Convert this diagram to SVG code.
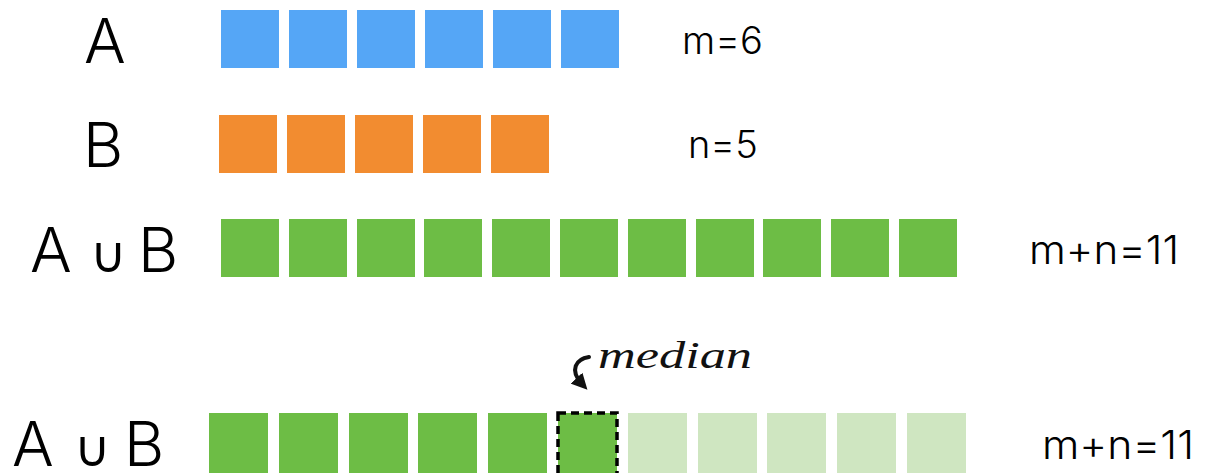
<svg xmlns="http://www.w3.org/2000/svg" width="1208" height="473" viewBox="0 0 1208 473">
<style>
.lbl{font-family:"Inter","Liberation Sans",sans-serif;font-weight:300;fill:#000}
.big{font-size:62px}
.un{font-size:50px;font-weight:200}
.cnt{font-size:38px}
.cnt2{font-size:40px}
.a{fill:#55a6f6}
.b{fill:#f28c30}
.g{fill:#6dbd45}
.lg{fill:#cfe6c1}
.hand{font-family:"Liberation Serif",serif;font-style:italic;font-size:38px;fill:#111}
</style>
<defs>
<rect id="s1" width="58" height="58"/>
<rect id="s2" width="59" height="60"/>
<marker id="ah" viewBox="0 0 10 10" refX="5" refY="5" markerWidth="4" markerHeight="4" orient="auto-start-reverse">
<path d="M0,0 L10,5 L0,10 z" fill="#111"/>
</marker>
</defs>
<g id="rowA">
<text class="lbl big" x="84" y="63">A</text>
<use href="#s1" class="a" x="221" y="10"/>
<use href="#s1" class="a" x="289" y="10"/>
<use href="#s1" class="a" x="357" y="10"/>
<use href="#s1" class="a" x="425" y="10"/>
<use href="#s1" class="a" x="493" y="10"/>
<use href="#s1" class="a" x="561" y="10"/>
<text class="lbl cnt" x="682" y="54">m=6</text>
</g>
<g id="rowB">
<text class="lbl big" x="83" y="167">B</text>
<use href="#s1" class="b" x="219" y="115"/>
<use href="#s1" class="b" x="287" y="115"/>
<use href="#s1" class="b" x="355" y="115"/>
<use href="#s1" class="b" x="423" y="115"/>
<use href="#s1" class="b" x="491" y="115"/>
<text class="lbl cnt" x="688" y="158">n=5</text>
</g>
<g id="rowU1">
<text class="lbl big" x="30" y="272">A</text>
<text class="lbl un" x="90" y="272">∪</text>
<text class="lbl big" x="138" y="272">B</text>
<use href="#s1" class="g" x="221" y="219"/>
<use href="#s1" class="g" x="289" y="219"/>
<use href="#s1" class="g" x="357" y="219"/>
<use href="#s1" class="g" x="424" y="219"/>
<use href="#s1" class="g" x="492" y="219"/>
<use href="#s1" class="g" x="560" y="219"/>
<use href="#s1" class="g" x="628" y="219"/>
<use href="#s1" class="g" x="696" y="219"/>
<use href="#s1" class="g" x="763" y="219"/>
<use href="#s1" class="g" x="831" y="219"/>
<use href="#s1" class="g" x="899" y="219"/>
<text class="lbl cnt2" x="1029" y="264" textLength="150" lengthAdjust="spacingAndGlyphs">m+n=11</text>
</g>
<g id="rowU2">
<text class="lbl big" x="12" y="466">A</text>
<text class="lbl un" x="74" y="466">∪</text>
<text class="lbl big" x="124" y="466">B</text>
<use href="#s2" class="g" x="209" y="413"/>
<use href="#s2" class="g" x="279" y="413"/>
<use href="#s2" class="g" x="349" y="413"/>
<use href="#s2" class="g" x="418" y="413"/>
<use href="#s2" class="g" x="488" y="413"/>
<use href="#s2" class="lg" x="628" y="413"/>
<use href="#s2" class="lg" x="698" y="413"/>
<use href="#s2" class="lg" x="767" y="413"/>
<use href="#s2" class="lg" x="837" y="413"/>
<use href="#s2" class="lg" x="907" y="413"/>
<text class="lbl cnt2" x="1042" y="459" textLength="152" lengthAdjust="spacingAndGlyphs">m+n=11</text>
</g>
<g id="median">
<rect x="558" y="413" width="59" height="62" class="g" stroke="#000" stroke-width="3.5" stroke-dasharray="8,5"/>
<text class="hand" x="598" y="368" textLength="154" lengthAdjust="spacingAndGlyphs">median</text>
</g>
<g id="connectors">
<path d="M589,357 C576,359 569,370 582,384" fill="none" stroke="#111" stroke-width="4" stroke-linecap="round" marker-end="url(#ah)"/>
</g>
</svg>
